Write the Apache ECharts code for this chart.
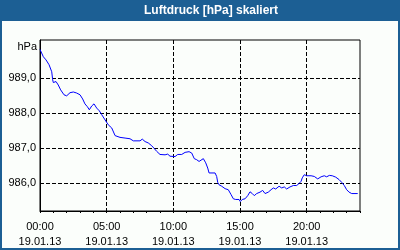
<!DOCTYPE html>
<html><head><meta charset="utf-8">
<script src="https://cdn.jsdelivr.net/npm/echarts@6/dist/echarts.min.js"></script>
<style>html,body{margin:0;padding:0;background:#1c5f94}#c{width:400px;height:250px}</style>
</head><body><div id="c"></div>
<script>
const title = 'Luftdruck [hPa] skaliert';
const unit = 'hPa';
const dateLabel = '19.01.13';
const hours = [0.00,0.25,0.45,0.68,0.88,0.95,1.00,1.20,1.37,1.55,1.80,2.00,2.25,2.50,2.75,3.00,3.20,3.37,3.55,3.70,3.88,4.05,4.25,4.45,4.63,4.88,5.12,5.38,5.63,5.75,6.00,6.38,6.75,7.00,7.50,7.67,7.88,8.12,8.38,8.57,8.75,9.00,9.38,9.58,9.75,10.13,10.33,10.63,10.88,11.18,11.38,11.57,11.75,11.93,12.25,12.43,12.58,12.68,13.13,13.25,13.33,13.43,13.63,13.88,14.12,14.25,14.33,14.50,14.68,14.83,14.93,15.02,15.17,15.38,15.58,15.75,15.92,16.07,16.25,16.50,16.70,16.88,17.12,17.33,17.50,17.68,17.93,18.13,18.32,18.50,18.75,19.00,19.25,19.43,19.58,19.67,19.82,20.00,20.12,20.33,20.57,20.83,21.08,21.32,21.50,21.70,21.92,22.18,22.43,22.63,22.82,23.00,23.18,23.38,23.83];
const pressure = [989.83,989.62,989.53,989.39,989.19,988.96,988.88,988.91,988.81,988.67,988.53,988.50,988.59,988.61,988.58,988.53,988.41,988.27,988.19,988.10,988.21,988.27,988.15,988.07,987.96,987.81,987.67,987.58,987.36,987.32,987.31,987.29,987.27,987.21,987.21,987.26,987.19,987.15,987.07,986.99,986.91,986.82,986.81,986.83,986.77,986.76,986.82,986.82,986.88,986.90,986.86,986.70,986.67,986.62,986.70,986.58,986.43,986.29,986.29,986.19,986.02,985.95,985.91,985.84,985.81,985.77,985.67,985.55,985.53,985.48,985.53,985.47,985.53,985.55,985.64,985.75,985.70,985.64,985.70,985.74,985.79,985.70,985.74,985.81,985.86,985.83,985.91,985.86,985.89,985.83,985.89,985.93,985.93,985.99,986.05,986.15,986.24,986.21,986.17,986.21,986.19,986.12,986.18,986.21,986.18,986.22,986.21,986.17,986.10,986.02,985.93,985.81,985.74,985.70,985.70];
const xMajor = [0,5,10,15,20];
const xMinor = [0,1,2,3,4,5,6,7,8,9,10,11,12,13,14,15,16,17,18,19,20,21,22,23,24];
const yTicks = [986,987,988,989];

const font = 'Liberation Sans';
const chart = echarts.init(document.getElementById('c'), null, {renderer:'canvas'});
chart.setOption({
  animation:false,
  backgroundColor:'#1c5f94',
  graphic:[
    {type:'rect', shape:{x:2,y:21,width:396,height:227}, style:{fill:'#fbfefb'}, z:-10},
    {type:'text', x:211, y:11, style:{text:title, fill:'#fff', font:'bold 12px "'+font+'"', textAlign:'center', textVerticalAlign:'middle'}},
    {type:'text', x:37, y:47, style:{text:unit, fill:'#000', font:'11px "'+font+'"', textAlign:'right', textVerticalAlign:'middle'}}
  ],
  grid:{left:40, top:40, right:40, bottom:39, show:true, borderColor:'#000', borderWidth:1, backgroundColor:'#fbfefb'},
  xAxis:[
    {type:'value', min:0, max:24, position:'bottom',
     axisLine:{show:true, lineStyle:{color:'#000', width:1}},
     axisTick:{show:true, length:2, lineStyle:{color:'#000'}, customValues:xMinor},
     axisLabel:{show:false}, splitLine:{show:false}},
    {type:'value', min:0, max:24, position:'bottom',
     axisLine:{show:false}, axisTick:{show:false, customValues:xMajor},
     axisLabel:{customValues:xMajor, color:'#000', fontFamily:font, fontSize:11, lineHeight:15, margin:8,
       formatter:v => String(v).padStart(2,'0') + ':00\n' + dateLabel},
     splitLine:{show:true, lineStyle:{color:'#000', type:[4,2], width:1}}}
  ],
  yAxis:{type:'value', min:985.2, max:990.1,
    axisLine:{show:true, lineStyle:{color:'#000'}}, axisTick:{show:false, customValues:yTicks},
    axisLabel:{customValues:yTicks, color:'#000', fontFamily:font, fontSize:11, margin:4,
      formatter:v => v.toFixed(1).replace('.', ',')},
    splitLine:{show:true, lineStyle:{color:'#000', type:[4,2], width:1}}},
  series:[{type:'line', xAxisIndex:0, data:hours.map((h,i)=>[h,pressure[i]]), showSymbol:false,
    lineStyle:{color:'#0000ff', width:1}, itemStyle:{color:'#0000ff'}}]
});
</script></body></html>
